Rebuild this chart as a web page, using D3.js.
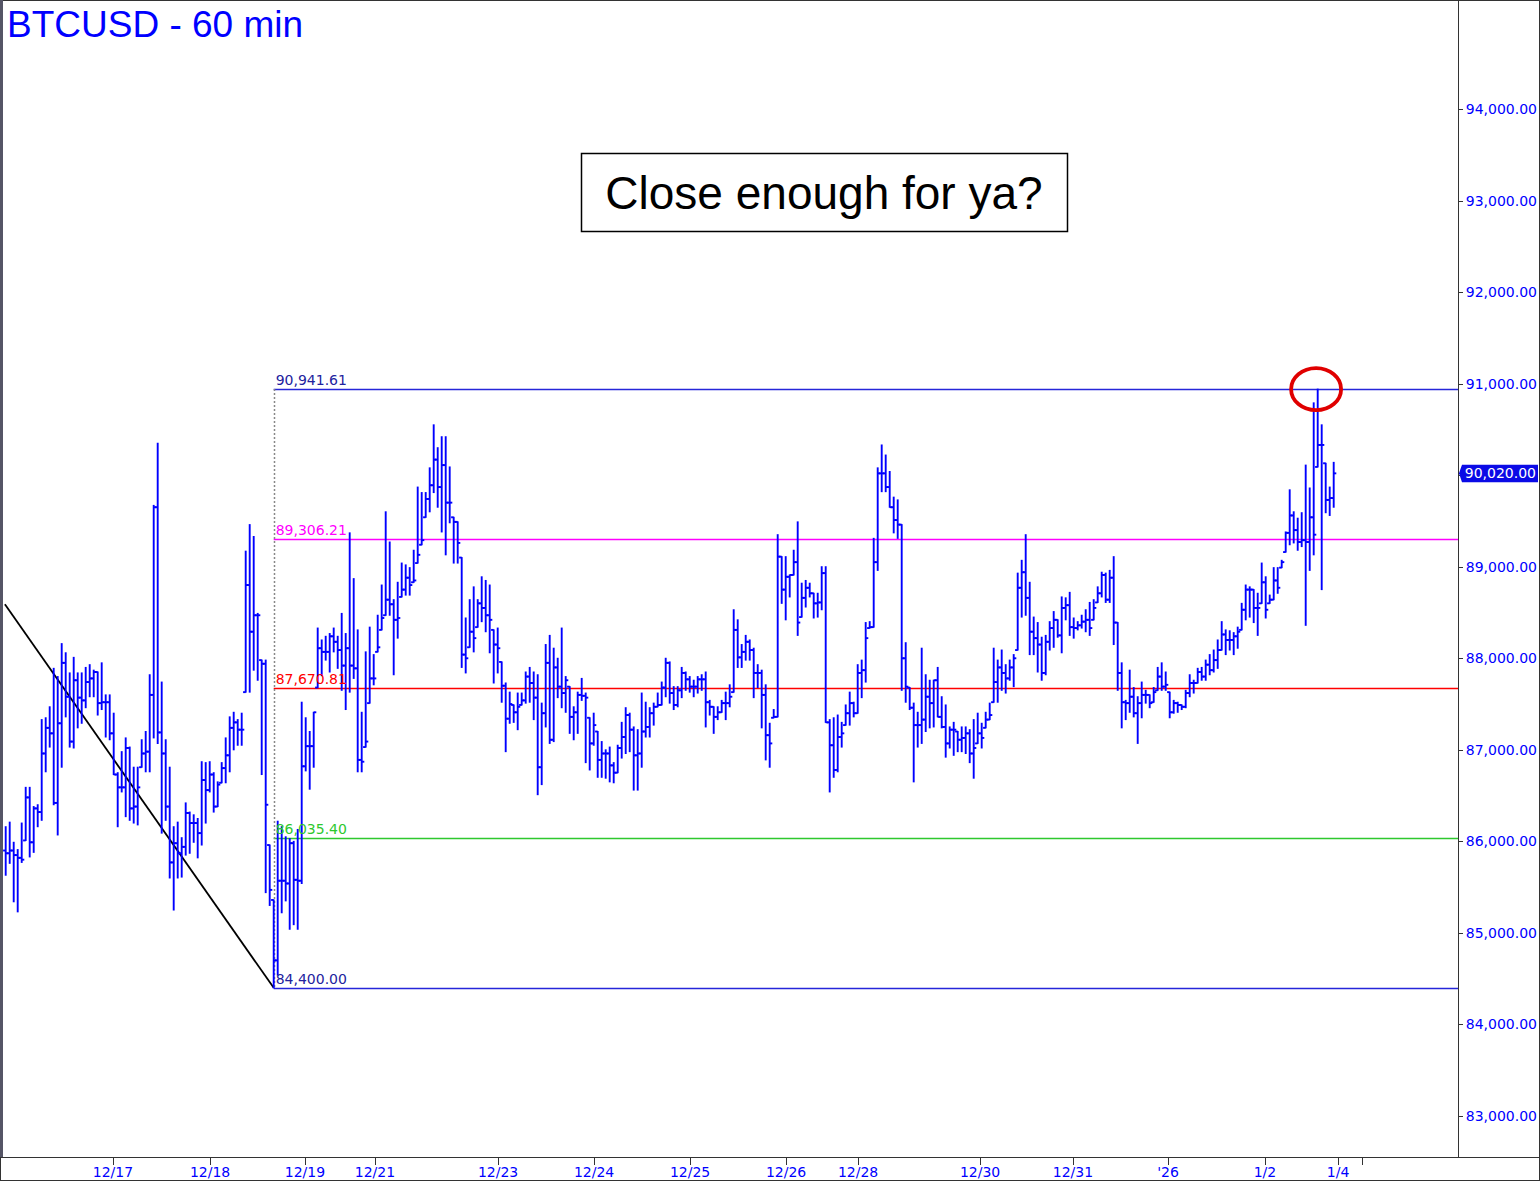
<!DOCTYPE html>
<html><head><meta charset="utf-8">
<script src="https://cdn.jsdelivr.net/npm/d3@7"></script>
<style>body{margin:0;background:#fff}svg{display:block}</style>
</head><body>
<svg id="chart" width="1540" height="1181"></svg>
<script>
// ---- DATA (hourly OHLC, BTCUSD) ----
const highs=[86160,86210,85990,85910,86200,86590,86590,86380,86400,87330,87350,87470,87890,87800,88160,88060,87840,88010,87840,87840,
87900,87930,87870,87850,87950,87600,87600,87400,86750,86980,87130,87030,86810,86810,87110,87200,87820,89670,90350,87740,
87110,86810,86160,86210,86040,86420,86320,86290,86250,86870,86860,86870,86750,86650,86860,87130,87360,87410,87330,87400,
89170,89460,89330,88490,87980,87980,85960,85360,86220,86160,86050,86030,86000,86130,87520,87350,87200,87410,88330,88200,
88240,88270,88330,88240,88490,88270,89370,88870,88310,87410,88070,88340,88040,88470,88800,89600,89270,88640,88830,89040,
89020,88990,89180,89870,89810,89810,90080,90550,90300,90420,90420,90090,89540,89490,89100,88440,88640,88780,88640,88890,
88850,88800,88310,88330,87960,87730,87630,87490,87620,87620,87850,87900,87850,87820,87510,88150,88250,88110,88000,88330,
87800,87690,87470,87630,87780,87620,87350,87400,87200,87090,87000,87030,86860,87050,87300,87460,87400,87250,87220,87620,
87520,87460,87510,87620,87740,88000,87960,87690,87690,87900,87850,87800,87760,87800,87820,87850,87540,87470,87470,87540,
87630,87710,88530,88420,88150,88250,88200,88110,87930,87870,87710,87290,87440,89350,89110,89110,88910,89180,89490,88820,
88850,88820,88710,88710,89000,89000,87330,87350,87380,87300,87490,87630,87520,87930,87980,88390,88400,89310,90080,90330,
90220,90040,89760,89730,89460,88170,87680,87510,87410,88110,87820,87760,87760,87900,87580,87490,87250,87300,87200,87250,
87250,87220,87330,87400,87290,87410,87510,88110,87980,88090,87930,87980,88040,88930,89070,89350,88830,88450,88390,88230,
88250,88400,88510,88420,88670,88660,88720,88440,88400,88470,88530,88610,88640,88780,88940,88930,88960,89110,88390,87950,
87540,87870,87680,87580,87740,87650,87600,87680,87900,87950,87850,87630,87540,87520,87490,87650,87820,87760,87890,87900,
87980,88040,88090,88200,88400,88310,88300,88280,88340,88600,88800,88780,88750,88710,89040,88890,88690,88990,88990,89070,
89380,89840,89600,89530,89590,90110,89860,90790,90940,90550,90130,89870,90140];
const lows=[85630,85760,85340,85230,85770,86010,85830,85880,86160,86230,86760,87030,86400,86070,86810,87360,87030,87020,87240,87290,
87460,87580,87580,87380,87440,87140,87110,86730,86160,86540,86270,86230,86200,86180,86810,86760,86760,87130,87070,86090,
86230,85600,85250,85600,85610,85850,85870,85990,85820,85960,86200,86540,86320,86380,86640,86640,86760,87000,87050,87050,
87630,87630,87870,87760,86730,85440,85300,84400,84540,85220,85350,85040,85090,85040,85540,86770,86570,86810,87680,87810,
87980,87850,88070,87890,87650,87440,87630,87780,86760,86760,87030,87510,87710,88070,88310,88470,88470,87820,88220,88670,
88690,88690,88830,89040,89240,89540,89600,89810,89650,89380,89130,89480,89040,89040,87900,87840,88120,88070,88340,88400,
88290,88060,87730,87840,87520,86980,87290,87300,87220,87490,87510,87520,87330,86510,86620,87250,87070,87090,87570,87460,
87410,87180,87110,87180,87540,86860,86780,87050,86700,86700,86690,86650,86640,86750,86910,86960,86980,86560,86560,86810,
87140,87140,87270,87470,87490,87580,87510,87440,87470,87570,87650,87630,87580,87620,87650,87250,87380,87180,87330,87410,
87330,87470,87630,87900,87900,87980,87980,87570,87680,87240,86890,86810,87350,87360,88600,88420,88670,88910,88250,88450,
88560,88670,88440,88450,88530,87300,86540,86700,86760,87030,87270,87270,87360,87400,87570,87740,88330,88340,88960,89820,
89820,89650,89370,89310,87650,87520,87440,86650,87030,87070,87200,87240,87250,87360,87240,86920,87020,86940,86980,86980,
86960,86860,86690,87070,87020,87240,87330,87520,87520,87650,87620,87760,87690,88090,88450,88470,88040,88040,87850,87760,
87820,88090,88120,88230,88060,88420,88250,88220,88310,88330,88290,88250,88420,88610,88670,88610,88610,88150,87650,87240,
87330,87410,87360,87070,87350,87510,87460,87520,87650,87650,87650,87350,87400,87410,87440,87460,87580,87620,87730,87760,
87760,87820,87850,87890,88090,88040,88090,88040,88110,88310,88420,88450,88390,88250,88600,88440,88600,88640,88710,88990,
89160,89240,89260,89180,89220,88360,88960,89130,90090,88750,89590,89560,89650];
const opens=[85900,85870,85900,85850,85820,85800,86480,85990,86360,86320,86960,87240,87180,86420,87290,87950,87580,87090,87760,87570,
87540,87740,87780,87850,87510,87520,87520,87180,86730,86590,86590,87020,86360,86380,86590,86960,86980,87600,89650,87190,
86960,86380,85770,85980,85870,85940,86310,86200,86200,86090,86670,86560,86730,86380,86620,86800,86940,87240,87300,87220,
87220,88800,88290,88470,88470,87940,86400,85470,84700,85570,85570,85540,85980,85580,85570,86820,87040,87040,87410,88110,
88070,88070,88240,88180,88090,87920,88110,87920,87890,86890,86870,87090,87780,87780,88120,88440,88640,88590,88420,88440,
88750,88880,88800,88850,89130,89290,89740,89890,90170,89870,90110,89700,89700,89490,89260,88040,88000,88290,88220,88600,
88550,88470,88420,88150,88110,87700,87340,87500,87410,87470,87540,87800,87730,87570,86810,87400,87950,87110,87900,87690,
87620,87760,87360,87410,87600,87590,87570,87070,87270,86890,86960,86960,86830,86750,87020,87140,87380,87220,86940,86960,
87200,87250,87400,87470,87490,87680,87950,87620,87490,87650,87840,87770,87690,87690,87770,87770,87520,87470,87360,87410,
87510,87510,87580,88310,88010,88070,88180,88090,87840,87840,87600,87160,87070,87360,89110,88750,88890,88910,89050,88390,
88660,88770,88710,88600,88610,88930,87300,87050,86780,87140,87180,87400,87510,87400,87840,87870,88220,88340,89050,90020,
90020,89870,89650,89510,89460,88000,87690,87460,87270,87270,87330,87580,87510,87760,87360,87250,87070,87220,87220,87110,
87130,87180,86960,87020,87180,87130,87330,87380,87740,87900,87840,87780,87900,88000,88770,88940,88660,88290,88220,88150,
87840,88180,88330,88420,88250,88550,88580,88340,88330,88360,88400,88420,88330,88550,88710,88910,88640,88880,88390,87840,
87520,87510,87580,87400,87510,87600,87600,87510,87630,87800,87690,87710,87410,87510,87490,87470,87620,87730,87730,87850,
87800,87930,87870,87980,88090,88260,88200,88200,88240,88290,88530,88750,88750,88550,88550,88830,88530,88640,88850,88770,
89050,89370,89560,89400,89270,89290,89270,89540,89350,90330,90330,89730,89750];
const closes=[85870,85900,85850,85820,85800,86480,85990,86360,86320,86960,87240,87180,86420,87290,87950,87580,87090,87760,87570,87540,
87740,87780,87850,87510,87520,87520,87180,86730,86590,86590,87020,86360,86380,86590,86960,86980,87600,89650,87190,86960,
86380,85770,85980,85870,85940,86310,86200,86200,86090,86670,86560,86730,86380,86620,86800,86940,87240,87300,87220,87220,
88800,88290,88470,88470,87940,86400,85470,84700,85570,85570,85540,85980,85580,85570,86820,87040,87040,87410,88110,88070,
88070,88240,88180,88090,87920,88110,87920,87890,86890,86870,87090,87780,87780,88120,88440,88640,88590,88420,88440,88750,
88880,88800,88850,89130,89290,89740,89890,90170,89870,90110,89700,89700,89490,89260,88040,88000,88290,88220,88600,88550,
88470,88420,88150,88110,87700,87340,87500,87410,87470,87540,87800,87730,87570,86810,87400,87950,87110,87900,87690,87620,
87760,87360,87410,87600,87590,87570,87070,87270,86890,86960,86960,86830,86750,87020,87140,87380,87220,86940,86960,87200,
87250,87400,87470,87490,87680,87950,87620,87490,87650,87840,87770,87690,87690,87770,87770,87520,87470,87360,87410,87510,
87510,87580,88310,88010,88070,88180,88090,87840,87840,87600,87160,87070,87360,89110,88750,88890,88910,89050,88390,88660,
88770,88710,88600,88610,88930,87300,87050,86780,87140,87180,87400,87510,87400,87840,87870,88220,88340,89050,90020,90020,
89870,89650,89510,89460,88000,87690,87460,87270,87270,87330,87580,87510,87760,87360,87250,87070,87220,87220,87110,87130,
87180,86960,87020,87180,87130,87330,87380,87740,87900,87840,87780,87900,88000,88770,88940,88660,88290,88220,88150,87840,
88180,88330,88420,88250,88550,88580,88340,88330,88360,88400,88420,88330,88550,88710,88910,88640,88880,88390,87840,87520,
87510,87580,87400,87510,87600,87600,87510,87630,87800,87690,87710,87410,87510,87490,87470,87620,87730,87730,87850,87800,
87930,87870,87980,88090,88260,88200,88200,88240,88290,88530,88750,88750,88550,88550,88830,88530,88640,88850,88770,89050,
89370,89560,89400,89270,89290,89270,89540,89350,90330,90330,89730,89750,90020];

const dateLabels=["12/17","12/18","12/19","12/21","12/23","12/24","12/25","12/26","12/28","12/30","12/31","'26","1/2","1/4"];
const dateBars=[26.8,51.1,74.8,92.3,123.1,147.1,171.1,195.1,213.1,243.6,266.8,290.6,314.8,333.1];
const extraTickBars=[339.1];
const priceTicks=[83000,84000,85000,86000,87000,88000,89000,90000,91000,92000,93000,94000];
const levelValues=[90941.61,89306.21,87670.81,86035.40,84400.00];
const levelLabels=["90,941.61","89,306.21","87,670.81","86,035.40","84,400.00"];
const levelColors=["#2626d9","#ff00ff","#ff0000","#2ec82e","#2626d9"];
const levelTextColors=["#22229e","#ff00ff","#ff0000","#2ec82e","#22229e"];
const levelStartBar=67;
const trendBars=[-0.2,67];
const trendPrices=[88590,84400];
const lastPrice=90020;
const peakBar=327.6, peakPrice=90940;
const title="BTCUSD - 60 min";
const note="Close enough for ya?";

// ---- LAYOUT ----
const W=1540,H=1181;
const plotRight=1458, plotBottom=1157;
const svg=d3.select("#chart");
const x=d3.scaleLinear().domain([0,332]).range([5.7,1333.7]);
const y=d3.scaleLinear().domain([83000,94000]).range([1116,109]);
const fmt=d3.format(",.2f");
const axisFont="DejaVu Sans", axisSize=14;

svg.append("rect").attr("x",0).attr("y",0).attr("width",W).attr("height",H).attr("fill","#fff");

// level lines
const lv=svg.append("g");
levelValues.forEach((v,k)=>{
  lv.append("line").attr("x1",x(levelStartBar)).attr("x2",plotRight)
    .attr("y1",Math.round(y(v))+0.5).attr("y2",Math.round(y(v))+0.5)
    .attr("stroke",levelColors[k]).attr("stroke-width",1.6);
});
// dotted vertical
svg.append("line").attr("x1",Math.round(x(levelStartBar))+0.5).attr("x2",Math.round(x(levelStartBar))+0.5)
  .attr("y1",y(levelValues[0])).attr("y2",y(levelValues[4]))
  .attr("stroke","#888").attr("stroke-width",1.5).attr("stroke-dasharray","2,2");

// trend line
svg.append("line").attr("x1",x(trendBars[0])).attr("y1",y(trendPrices[0]))
  .attr("x2",x(trendBars[1])).attr("y2",y(trendPrices[1]))
  .attr("stroke","#000").attr("stroke-width",1.8);

// OHLC bars
const bars=svg.append("g").attr("stroke","#0000ff").attr("stroke-width",1.9);
highs.forEach((h,i)=>{
  const xi=x(i), lo=lows[i];
  const cl=v=>Math.max(lo,Math.min(h,v));
  bars.append("line").attr("x1",xi).attr("x2",xi).attr("y1",y(h)-0.5).attr("y2",y(lo)+0.5);
  bars.append("line").attr("x1",xi-2.6).attr("x2",xi).attr("y1",y(cl(opens[i]))).attr("y2",y(cl(opens[i])));
  bars.append("line").attr("x1",xi).attr("x2",xi+2.6).attr("y1",y(cl(closes[i]))).attr("y2",y(cl(closes[i])));
});

// level labels
levelValues.forEach((v,k)=>{
  svg.append("text").attr("x",x(levelStartBar)+2).attr("y",y(v)-4)
    .attr("fill",levelTextColors[k]).attr("font-family",axisFont)
    .attr("font-size",axisSize).text(levelLabels[k]);
});

// red circle
svg.append("ellipse").attr("cx",x(peakBar)).attr("cy",y(peakPrice)).attr("rx",25).attr("ry",21)
  .attr("fill","none").attr("stroke","#e00000").attr("stroke-width",3.8);

// axes frame
svg.append("line").attr("x1",plotRight+0.5).attr("x2",plotRight+0.5).attr("y1",0).attr("y2",plotBottom).attr("stroke","#333").attr("stroke-width",1);
svg.append("line").attr("x1",0).attr("x2",W).attr("y1",plotBottom+0.5).attr("y2",plotBottom+0.5).attr("stroke","#333").attr("stroke-width",1);
svg.append("rect").attr("x",0.5).attr("y",0.5).attr("width",W-1).attr("height",H-1).attr("fill","none").attr("stroke","#333");
svg.append("line").attr("x1",1.5).attr("x2",1.5).attr("y1",0).attr("y2",plotBottom).attr("stroke","#556").attr("stroke-width",3);

// right axis
const ya=svg.append("g");
priceTicks.forEach(v=>{
  ya.append("line").attr("x1",plotRight).attr("x2",plotRight+5).attr("y1",Math.round(y(v))+0.5).attr("y2",Math.round(y(v))+0.5).attr("stroke","#333");
  ya.append("text").attr("x",1537).attr("y",y(v)+5).attr("text-anchor","end")
    .attr("fill","#0000ff").attr("font-family",axisFont).attr("font-size",axisSize).text(fmt(v));
});
// last price tag
const ly=y(lastPrice);
svg.append("path").attr("d",`M${plotRight+1},${ly} L${plotRight+4},${ly-8.5} L1538,${ly-8.5} L1538,${ly+9} L${plotRight+4},${ly+9} Z`).attr("fill","#0a0ae6");
svg.append("text").attr("x",1536).attr("y",ly+5).attr("text-anchor","end").attr("fill","#fff")
  .attr("font-family",axisFont).attr("font-size",axisSize).text(fmt(lastPrice));

// bottom axis
const xa=svg.append("g");
dateBars.concat(extraTickBars).forEach(b=>{
  xa.append("line").attr("x1",Math.round(x(b))+0.5).attr("x2",Math.round(x(b))+0.5).attr("y1",plotBottom).attr("y2",plotBottom+8).attr("stroke","#333");
});
dateLabels.forEach((t,k)=>{
  xa.append("text").attr("x",x(dateBars[k])).attr("y",1177).attr("text-anchor","middle")
    .attr("fill","#0000ff").attr("font-family",axisFont).attr("font-size",axisSize).text(t);
});

// title
svg.append("text").attr("x",7).attr("y",37).attr("fill","#0000ff").attr("font-family","Liberation Sans, Arial")
  .attr("font-size",37).text(title);

// note box
svg.append("rect").attr("x",581.5).attr("y",153.5).attr("width",486).attr("height",78).attr("fill","#fff").attr("stroke","#000").attr("stroke-width",1.5);
svg.append("text").attr("x",824).attr("y",209).attr("text-anchor","middle").attr("fill","#000")
  .attr("font-family","Liberation Sans, Arial").attr("font-size",46).text(note);
</script>
</body></html>
